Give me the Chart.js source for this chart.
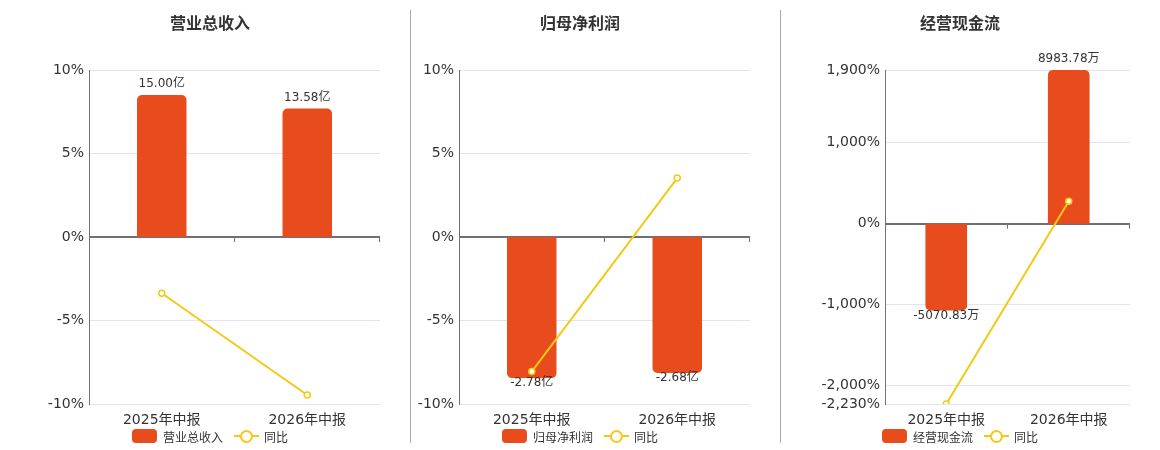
<!DOCTYPE html>
<html>
<head>
<meta charset="utf-8">
<script src="https://cdn.jsdelivr.net/npm/chart.js"></script>
<style>
  html,body{margin:0;padding:0;background:#fff;}
  body{width:1160px;height:450px;position:relative;overflow:hidden;font-family:'DejaVu Sans','Noto Sans CJK SC',sans-serif;}
  .panel{position:absolute;top:0;height:450px;}
  .sep{position:absolute;top:10px;height:433px;width:1px;background:#aaa;}
  .title{position:absolute;top:12px;width:300px;margin-left:-150px;text-align:center;font:bold 16px 'Noto Sans CJK SC',sans-serif;color:#333;line-height:20px;}
  .legend{position:absolute;top:429px;height:14px;display:flex;align-items:center;transform:translateX(-50%);font:12px 'DejaVu Sans','Noto Sans CJK SC',sans-serif;color:#333;white-space:nowrap;}
  .sw{width:25px;height:14px;border-radius:4px;background:#E84B1C;margin-right:6px;}
  .ln{position:relative;width:25px;height:14px;margin-left:11px;margin-right:5px;}
  .ln i{position:absolute;left:0;top:6px;width:25px;height:2px;background:#F4C914;}
  .ln b{position:absolute;left:6px;top:1px;width:9px;height:9px;border:2px solid #F4C914;border-radius:50%;background:#fff;}
</style>
</head>
<body>
<div class="sep" style="left:410px"></div>
<div class="sep" style="left:780px"></div>
<div class="panel" style="left:0;width:400px"><canvas id="c1"></canvas></div>
<div class="panel" style="left:411px;width:360px"><canvas id="c2"></canvas></div>
<div class="panel" style="left:781px;width:379px"><canvas id="c3"></canvas></div>
<div class="title" style="left:210px">营业总收入</div>
<div class="title" style="left:580px">归母净利润</div>
<div class="title" style="left:960px">经营现金流</div>
<div class="legend" style="left:210px"><span class="sw"></span>营业总收入<span class="ln"><i></i><b></b></span>同比</div>
<div class="legend" style="left:580px"><span class="sw"></span>归母净利润<span class="ln"><i></i><b></b></span>同比</div>
<div class="legend" style="left:960px"><span class="sw"></span>经营现金流<span class="ln"><i></i><b></b></span>同比</div>
<script>
// data
const categories = ['2025年中报', '2026年中报'];

const revenue = [15.00, 13.58];          // 亿
const revenueYoY = [-3.37, -9.46];       // %
const netProfit = [-2.78, -2.68];        // 亿
const netProfitYoY = [-8.06, 3.53];      // %
const cashFlow = [-5070.83, 8983.78];    // 万
const cashFlowYoY = [-2230, 278];        // %

const pctTicks = [-10, -5, 0, 5, 10];
const cashTicks = [-2230, -2000, -1000, 0, 1000, 1900];

const BAR = '#E84B1C';
const LINE = '#F4C914';
const AXIS = '#6E7079';
const GRID = '#E0E6F1';
const FONT = "'DejaVu Sans','Noto Sans CJK SC',sans-serif";

// zero axis tick marks + bar value labels
const extras = {
  id: 'extras',
  afterDatasetsDraw(chart, args, opts) {
    const ctx = chart.ctx, area = chart.chartArea;
    const y = chart.scales.y;
    const zy = y.getPixelForValue(0);
    const n = chart.data.labels.length;
    ctx.save();
    ctx.strokeStyle = AXIS; ctx.lineWidth = 1;
    for (let k = 1; k <= n; k++) {
      const px = Math.round(area.left + k * (area.right - area.left) / n) - 0.5;
      ctx.beginPath(); ctx.moveTo(px, zy); ctx.lineTo(px, zy + 5); ctx.stroke();
    }
    const meta = chart.getDatasetMeta(0);
    const vals = chart.data.datasets[0].data;
    ctx.fillStyle = '#333';
    ctx.font = '12px ' + FONT;
    ctx.textAlign = 'center';
    ctx.textBaseline = 'middle';
    meta.data.forEach((bar, i) => {
      const v = vals[i];
      const ty = v >= 0 ? bar.y - 11 : bar.y + 5;
      ctx.fillText(v.toFixed(2) + opts.unit, bar.x, ty);
    });
    ctx.restore();
  }
};

function makePanel(id, barLabel, bars, yoy, ticks, refBar, refLevel, yWidth, padRight, unit) {
  const yMin = ticks[0], yMax = ticks[ticks.length - 1];
  const k = refBar / refLevel;
  const b1 = yMin * k, b2 = yMax * k;
  return new Chart(document.getElementById(id), {
    data: {
      labels: categories,
      datasets: [
        { type: 'bar', label: barLabel, data: bars, yAxisID: 'y1', backgroundColor: BAR,
          borderRadius: 5, borderSkipped: 'start', barPercentage: 0.34, categoryPercentage: 1, order: 2 },
        { type: 'line', label: '同比', data: yoy, yAxisID: 'y', borderColor: LINE, borderWidth: 2,
          pointRadius: 3, pointBorderWidth: 1.5, pointBackgroundColor: '#fff', pointBorderColor: LINE,
          tension: 0, order: 1 }
      ]
    },
    options: {
      responsive: true, maintainAspectRatio: false, animation: false,
      layout: { padding: { top: 70, bottom: 12, left: 0, right: padRight } },
      plugins: { legend: { display: false }, tooltip: { enabled: false }, extras: { unit } },
      scales: {
        x: {
          grid: { display: false, drawTicks: false }, border: { display: false },
          ticks: { color: '#333', font: { size: 14, family: FONT }, padding: 8, maxRotation: 0 },
          afterFit(s) { s.height = 34; }
        },
        y: {
          position: 'left', min: yMin, max: yMax,
          afterBuildTicks(s) { s.ticks = ticks.map(v => ({ value: v })); },
          grid: {
            drawTicks: false,
            color: c => c.tick && c.tick.value === 0 ? AXIS : GRID,
            lineWidth: c => c.tick && c.tick.value === 0 ? 2 : 1
          },
          border: { display: true, color: AXIS, width: 1 },
          ticks: { color: '#333', font: { size: 14, family: FONT }, padding: 5,
            callback: v => v.toLocaleString('en-US') + '%' },
          afterFit(s) { s.width = yWidth; }
        },
        y1: { display: false, min: b1, max: b2 }
      }
    },
    plugins: [extras]
  });
}

makePanel('c1', '营业总收入', revenue, revenueYoY, pctTicks, 15.00, 8.5, 89, 20, '亿');
makePanel('c2', '归母净利润', netProfit, netProfitYoY, pctTicks, -2.78, -8.45, 48, 21, '亿');
makePanel('c3', '经营现金流', cashFlow, cashFlowYoY, cashTicks, 8983.78, 1900, 104, 30, '万');
</script>
</body>
</html>
